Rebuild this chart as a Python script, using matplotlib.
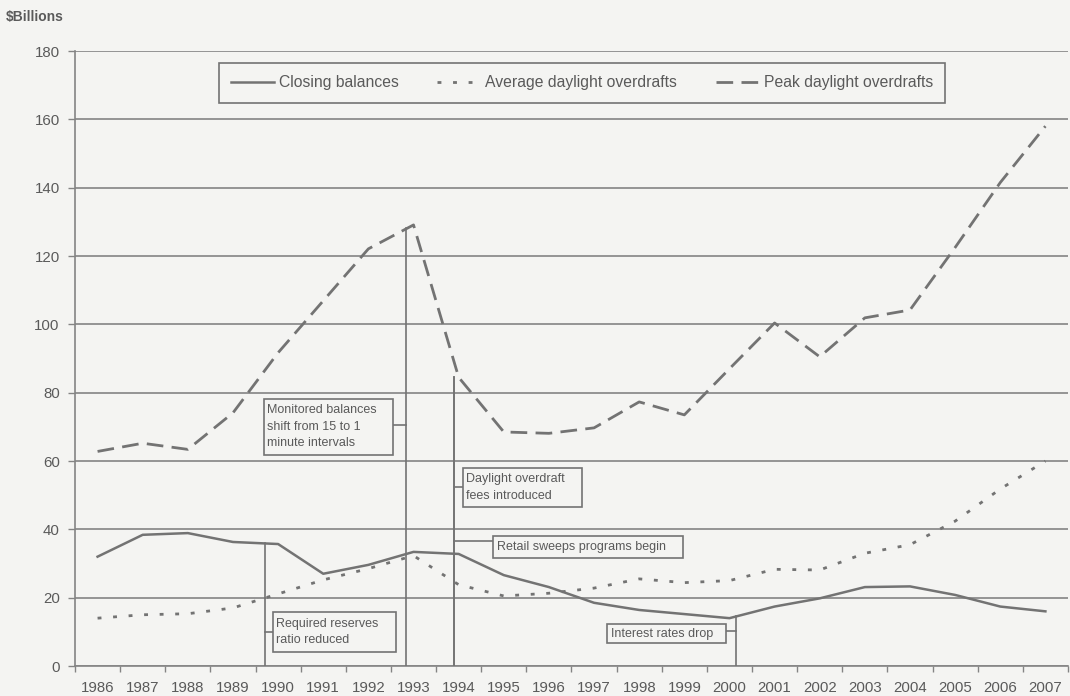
import matplotlib
matplotlib.use("Agg")
import matplotlib.pyplot as plt
from matplotlib.patches import Rectangle
import numpy as np

# ---------------- data ----------------
years = list(range(1986, 2008))
closing_balances = [32.0, 38.4, 38.9, 36.3, 35.7, 27.0, 29.6, 33.4, 32.8, 26.6, 23.1,
                    18.5, 16.4, 15.2, 14.0, 17.4, 19.8, 23.1, 23.3, 20.8, 17.4, 16.0]
average_overdrafts = [14.0, 15.0, 15.3, 17.0, 21.1, 25.2, 28.5, 32.3, 23.8, 20.5, 21.3,
                      22.8, 25.5, 24.4, 25.0, 28.3, 28.1, 33.0, 35.5, 42.4, 51.8, 60.0]
peak_overdrafts = [62.8, 65.2, 63.4, 74.1, 91.7, 106.9, 122.1, 129.1, 84.5, 68.5, 68.1,
                   69.7, 77.3, 73.5, 87.0, 100.4, 90.5, 101.9, 104.2, 122.5, 141.5, 158.0]
series_labels = ["Closing balances", "Average daylight overdrafts", "Peak daylight overdrafts"]
y_ticks = list(range(0, 181, 20))

# event annotations: text, leader-line x, leader top, box (x0, y0, x1, y1), connector y
events = [
    ("Monitored balances\nshift from 15 to 1\nminute intervals", 1992.83, 128.3,
     (1989.68, 61.8, 1992.55, 78.2), 70.6),
    ("Daylight overdraft\nfees introduced", 1993.89, 84.5,
     (1994.09, 46.6, 1996.73, 58.0), 52.4),
    ("Retail sweeps programs begin", 1993.89, 84.5,
     (1994.76, 31.6, 1998.98, 38.1), 36.6),
    ("Required reserves\nratio reduced", 1989.70, 36.0,
     (1989.88, 4.1, 1992.61, 15.8), 10.0),
    ("Interest rates drop", 2000.15, 14.5,
     (1997.29, 6.7, 1999.92, 12.3), 10.2),
]

# ---------------- style ----------------
BG = "#f4f4f2"
LINE = "#737373"
GRID = "#848484"
TXT = "#5a5a5a"
plt.rcParams["font.family"] = ["Liberation Sans", "DejaVu Sans"]

fig = plt.figure(figsize=(10.70, 6.96), dpi=100, facecolor=BG)
ax = fig.add_axes([0.0701, 0.0431, 0.9280, 0.8836], facecolor=BG)

ax.plot(years, closing_balances, color=LINE, lw=1.8, solid_joinstyle="round",
        label=series_labels[0], zorder=4)
ax.plot(years, average_overdrafts, color=LINE, lw=2.0, linestyle=(0, (1.4, 4.2)),
        label=series_labels[1], zorder=4)
ax.plot(years, peak_overdrafts, color=LINE, lw=2.0, linestyle=(0, (6.0, 3.0)),
        label=series_labels[2], zorder=4)

ax.set_xlim(1985.5, 2007.5)
ax.set_ylim(0, 180)
ax.set_yticks(y_ticks)
ax.set_yticklabels([str(v) for v in y_ticks])
ax.set_xticks(years)
ax.set_xticklabels([str(y) for y in years])
ax.set_xticks(np.arange(1985.5, 2008, 1.0), minor=True)

ax.yaxis.grid(True, color=GRID, lw=1.2, zorder=1)
ax.set_axisbelow(True)
for s in ["top", "right"]:
    ax.spines[s].set_visible(False)
for s in ["left", "bottom"]:
    ax.spines[s].set_color(GRID)
    ax.spines[s].set_linewidth(1.2)

ax.tick_params(axis="y", length=5, width=1.0, color=GRID, labelcolor=TXT,
               labelsize=10.8, pad=6)
ax.tick_params(axis="x", which="major", length=0, labelcolor=TXT, labelsize=10.8, pad=11)
ax.tick_params(axis="x", which="minor", length=4, width=1.0, color=GRID)

# event annotations
for text, lx, ltop, (x0, y0, x1, y1), cy in events:
    ax.plot([lx, lx], [0, ltop], color=LINE, lw=1.2, zorder=3)
    ax.add_patch(Rectangle((x0, y0), x1 - x0, y1 - y0, facecolor=BG,
                           edgecolor=LINE, lw=1.2, zorder=5))
    if x0 > lx:
        ax.plot([lx, x0], [cy, cy], color=LINE, lw=1.2, zorder=3)
    else:
        ax.plot([x1, lx], [cy, cy], color=LINE, lw=1.2, zorder=3)
    ax.text(x0 + 0.08, (y0 + y1) / 2, text, ha="left", va="center", fontsize=9,
            color=TXT, linespacing=1.5, zorder=6)

leg = ax.legend(loc="center", bbox_to_anchor=(0.5106, 0.948), ncol=3, frameon=True,
                fancybox=False, edgecolor=LINE, facecolor=BG, fontsize=11.3,
                handlelength=2.75, handletextpad=0.3, columnspacing=2.45,
                borderpad=0.8, labelcolor=TXT)
leg.get_frame().set_linewidth(1.2)
leg.get_frame().set_alpha(1)

fig.text(0.005, 0.975, "$Billions", ha="left", va="center", fontsize=10,
         fontweight="bold", color=TXT)

fig.savefig("out.png", dpi=100, facecolor=BG)
